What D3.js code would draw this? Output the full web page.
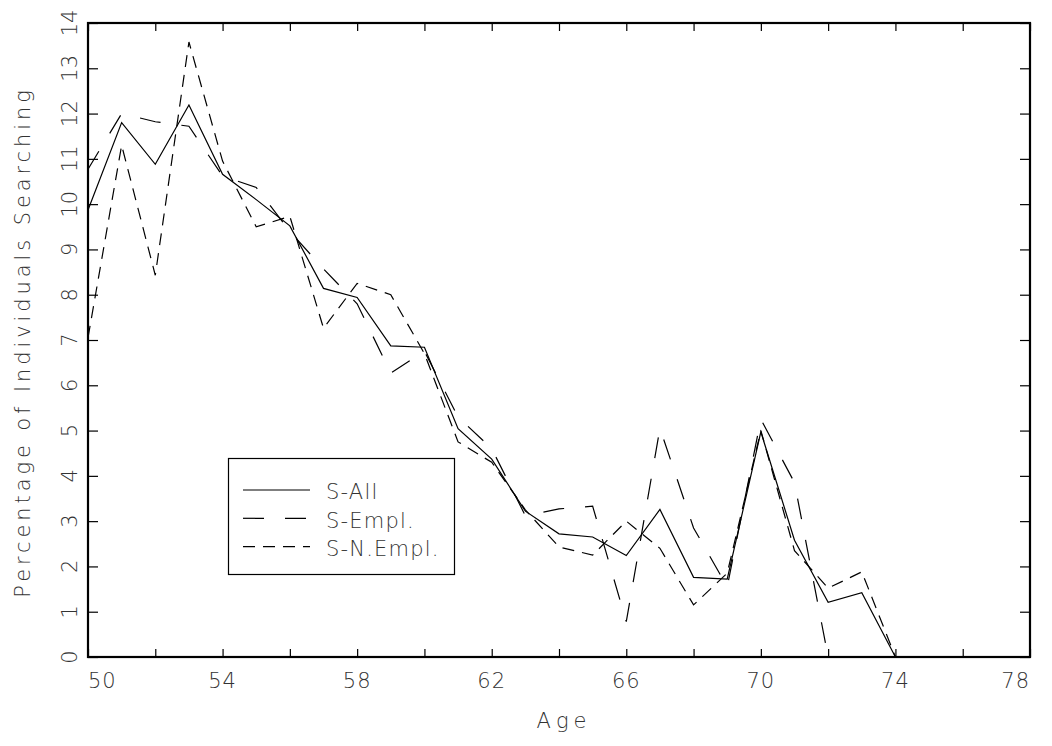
<!DOCTYPE html>
<html>
<head>
<meta charset="utf-8">
<script src="https://cdn.jsdelivr.net/npm/d3@7"></script>
<style>
  body { margin: 0; background: #fff; }
  svg { font-family: "DejaVu Sans", "Liberation Sans", sans-serif; font-weight: 200; }
  .lbl { fill: #333; font-size: 21px; }
</style>
</head>
<body>
<div id="chart"></div>
<script>
// ages on the x axis
var ages = [50, 51, 52, 53, 54, 55, 56, 57, 58, 59, 60, 61, 62, 63, 64, 65, 66, 67, 68, 69, 70, 71, 72, 73, 74]
// percentage searching
var sAll = [9.87, 11.8, 10.88, 12.19, 10.66, 10.1, 9.52, 8.14, 7.94, 6.87, 6.84, 5.04, 4.37, 3.22, 2.72, 2.65, 2.24, 3.26, 1.76, 1.72, 4.97, 2.58, 1.21, 1.42, 0]
var sEmpl = [10.77, 12.0, 11.82, 11.72, 10.62, 10.37, 9.4, 8.57, 7.8, 6.27, 6.75, 5.3, 4.6, 3.12, 3.27, 3.33, 0.78, 5.05, 2.85, 1.55, 5.25, 3.85, 0, 0, 0]
var sNEmpl = [7.05, 11.3, 8.43, 13.58, 10.95, 9.5, 9.73, 7.26, 8.25, 8.0, 6.7, 4.75, 4.3, 3.25, 2.43, 2.25, 3.0, 2.4, 1.15, 1.85, 5.0, 2.35, 1.52, 1.88, 0]

var xTicks = [50, 52, 54, 56, 58, 60, 62, 64, 66, 68, 70, 72, 74, 76, 78]
var xLabels = [50, 54, 58, 62, 66, 70, 74, 78]
var yTicks = [0, 1, 2, 3, 4, 5, 6, 7, 8, 9, 10, 11, 12, 13, 14]

var seriesNames = ["S-All", "S-Empl.", "S-N.Empl."]
var seriesValues = [sAll, sEmpl, sNEmpl]
var dashes = [null, "21,21", "12,8"]

var width = 1052, height = 746
var margin = { top: 23, right: 22, bottom: 89, left: 88 }

var svg = d3.select("#chart").append("svg")
    .attr("width", width)
    .attr("height", height)

var x = d3.scaleLinear()
    .domain([50, 78])
    .range([margin.left, width - margin.right])
var y = d3.scaleLinear()
    .domain([0, 14])
    .range([height - margin.bottom, margin.top])

// inward ticks on all four sides
svg.append("g")
    .attr("transform", `translate(0, ${y(0)})`)
    .call(d3.axisBottom(x).tickValues(xTicks).tickSize(-8).tickFormat(""))
svg.append("g")
    .attr("transform", `translate(0, ${y(14)})`)
    .call(d3.axisTop(x).tickValues(xTicks).tickSize(-8).tickFormat(""))
svg.append("g")
    .attr("transform", `translate(${x(50)}, 0)`)
    .call(d3.axisLeft(y).tickValues(yTicks).tickSize(-10).tickFormat(""))
svg.append("g")
    .attr("transform", `translate(${x(78)}, 0)`)
    .call(d3.axisRight(y).tickValues(yTicks).tickSize(-10).tickFormat(""))
svg.selectAll(".domain").remove()
svg.selectAll(".tick line").attr("stroke", "#000").attr("stroke-width", 1.2)

// frame
svg.append("rect")
    .attr("x", x(50))
    .attr("y", y(14))
    .attr("width", x(78) - x(50))
    .attr("height", y(0) - y(14))
    .attr("fill", "none")
    .attr("stroke", "#000")
    .attr("stroke-width", 2.2)

// tick labels
svg.append("g").selectAll("text")
    .data(xLabels)
    .enter().append("text")
    .attr("class", "lbl")
    .attr("x", d => x(d))
    .attr("y", y(0) + 31)
    .attr("text-anchor", (d, i) => i == 0 ? "start" : (i == xLabels.length - 1 ? "end" : "middle"))
    .style("letter-spacing", "1px")
    .text(d => d)

svg.append("g").selectAll("text")
    .data(yTicks)
    .enter().append("text")
    .attr("class", "lbl")
    .attr("transform", d => `translate(77, ${y(d)}) rotate(-90)`)
    .attr("text-anchor", "middle")
    .text(d => d)

// axis titles
svg.append("text")
    .attr("class", "lbl")
    .attr("x", (x(50) + x(78)) / 2 + 5)
    .attr("y", 728)
    .attr("text-anchor", "middle")
    .style("letter-spacing", "5px")
    .text("Age")

svg.append("text")
    .attr("class", "lbl")
    .attr("transform", `translate(30, ${(y(0) + y(14)) / 2 + 2}) rotate(-90)`)
    .attr("text-anchor", "middle")
    .style("letter-spacing", "3.9px")
    .text("Percentage of Individuals Searching")

// lines
var line = d3.line()
    .x((d, i) => x(ages[i]))
    .y(d => y(d))

svg.append("g")
    .selectAll("path")
    .data(seriesValues)
    .enter().append("path")
    .attr("d", d => line(d))
    .attr("fill", "none")
    .attr("stroke", "#000")
    .attr("stroke-width", 1.2)
    .attr("stroke-dasharray", (d, i) => dashes[i])

// legend
var legend = svg.append("g")
legend.append("rect")
    .attr("x", 228.5)
    .attr("y", 458.5)
    .attr("width", 226)
    .attr("height", 116)
    .attr("fill", "#fff")
    .attr("stroke", "#000")
    .attr("stroke-width", 1.2)

var rows = legend.selectAll("g")
    .data(seriesNames)
    .enter().append("g")
    .attr("transform", (d, i) => `translate(243, ${490 + i * 28.3})`)
rows.append("line")
    .attr("x1", 0)
    .attr("x2", 67)
    .attr("stroke", "#000")
    .attr("stroke-width", 1.2)
    .attr("stroke-dasharray", (d, i) => dashes[i])
rows.append("text")
    .attr("class", "lbl")
    .attr("x", 83)
    .attr("y", 5)
    .attr("dy", "0.2em")
    .style("letter-spacing", "1.2px")
    .text(d => d)
</script>
</body>
</html>
